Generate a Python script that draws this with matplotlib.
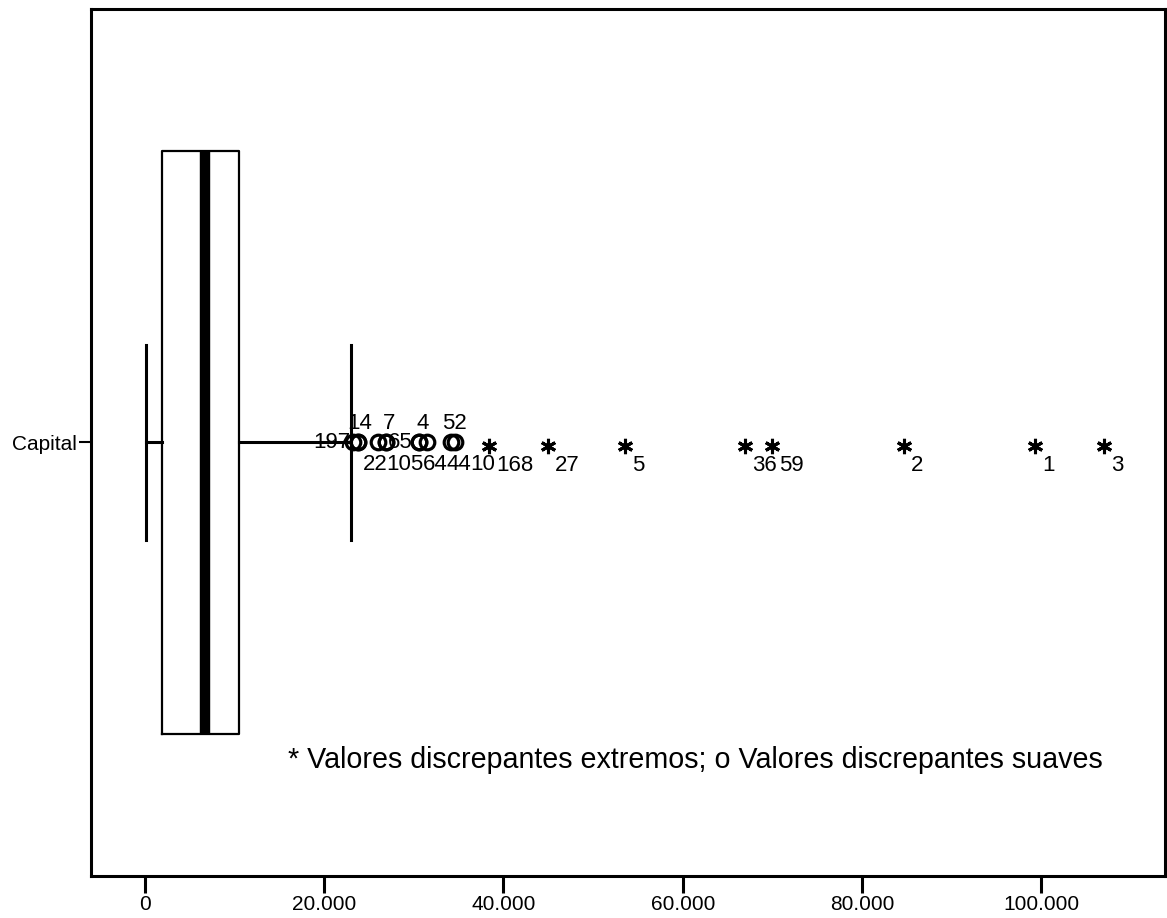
import matplotlib
matplotlib.use("Agg")
import matplotlib.pyplot as plt
from matplotlib.ticker import FuncFormatter

plt.rcParams["font.family"] = ["Liberation Sans", "DejaVu Sans"]

# ---- data -----------------------------------------------------------------
category = "Capital"
q1, median, q3 = 1960, 6760, 10515
whisker_low, whisker_high = 150, 22970

# mild outliers (circles) with case labels
mild_values = [23250, 23800, 23800, 26050, 26900, 26900, 30600, 30600, 31500, 34150, 34600]
mild_labels = ["197", "14", "22", "105", "7", "65", "4", "64", "44", "10", "52"]
# extreme outliers (stars) with case labels
extreme_values = [38400, 45000, 53560, 66940, 69950, 84670, 99280, 106970]
extreme_labels = ["168", "27", "5", "36", "59", "2", "1", "3"]

x_ticks = [0, 20000, 40000, 60000, 80000, 100000]

# label placement for the mild outliers: (dx px, dy px, ha)
mild_place = [(-3, 0, "right"), (2, 19, "center"), (5, -22, "left"),
              (8, -22, "left"), (3, 19, "center"), (2, 0, "left"),
              (4, 19, "center"), (4, -22, "left"), (19, -22, "left"),
              (19, -22, "left"), (-1, 19, "center")]

# ---- figure ----------------------------------------------------------------
fig = plt.figure(figsize=(11.67, 9.18), dpi=100)
ax = fig.add_axes([0.078, 0.0458, 0.9205, 0.9444])

stats = [dict(med=median, q1=q1, q3=q3, whislo=whisker_low, whishi=whisker_high,
              fliers=[], label=category)]
ax.bxp(stats, positions=[0], widths=1.345, capwidths=0.45, orientation="horizontal",
       showfliers=False,
       boxprops=dict(color="black", linewidth=1.6),
       whiskerprops=dict(color="black", linewidth=2.2),
       capprops=dict(color="black", linewidth=2.2),
       medianprops=dict(color="black", linewidth=7.5, solid_capstyle="butt"))

ax.plot(mild_values, [0] * len(mild_values), ls="none", marker="o", ms=10.5,
        mfc="none", mec="black", mew=2.3, zorder=4)
ax.plot(extreme_values, [-0.008] * len(extreme_values), ls="none", marker=(6, 2, 0),
        ms=11, mec="black", mew=2.2, zorder=4)

for v, lab, (dx, dy, ha) in zip(mild_values, mild_labels, mild_place):
    ax.annotate(lab, (v, 0), xytext=(dx, dy), textcoords="offset pixels",
                ha=ha, va="center", fontsize=16)
for v, lab in zip(extreme_values, extreme_labels):
    ax.annotate(lab, (v, 0), xytext=(7, -23), textcoords="offset pixels",
                ha="left", va="center", fontsize=16)

ax.text(0.1834, 0.134, "* Valores discrepantes extremos; o Valores discrepantes suaves",
        transform=ax.transAxes, ha="left", va="center", fontsize=20.6)

ax.set_xlim(-5990, 113810)
ax.set_ylim(-1, 1)
ax.set_xticks(x_ticks)
ax.xaxis.set_major_formatter(FuncFormatter(lambda v, p: f"{int(v):,}".replace(",", ".")))
ax.set_yticks([0])
ax.set_yticklabels([category])
ax.tick_params(axis="x", length=12, width=2.2, labelsize=15, pad=2)
ax.tick_params(axis="y", length=9, width=1.5, labelsize=15, pad=1)
for s in ax.spines.values():
    s.set_linewidth(2.2)

fig.savefig("out.png", dpi=100)
